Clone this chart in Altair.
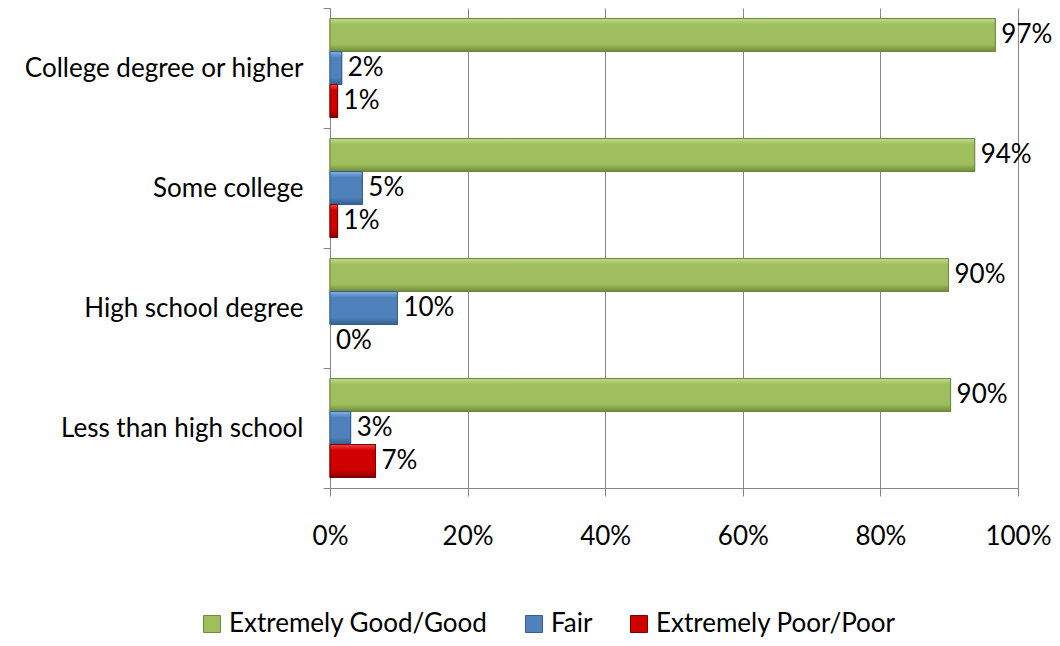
import altair as alt
import pandas as pd

categories = ["College degree or higher", "Some college", "High school degree", "Less than high school"]
series = ["Extremely Good/Good", "Fair", "Extremely Poor/Poor"]
good = [0.967, 0.937, 0.899, 0.902]
fair = [0.017, 0.047, 0.098, 0.030]
poor = [0.011, 0.011, 0.0, 0.066]
colors = ["#9FBF5E", "#4F81BD", "#D00000"]
lights = ["#C2DA8F", "#8AB2E2", "#F04545"]
darks = ["#6E8A3A", "#34608F", "#800000"]

rows = []
for i, c in enumerate(categories):
    for s, vals in zip(series, [good, fair, poor]):
        rows.append({"category": c, "series": s, "value": vals[i]})
df = pd.DataFrame(rows)

FONT = "Lato"
FS = 26
GRAY = "#868686"

y_axis = alt.Axis(title=None, tickBand="extent", domainColor=GRAY, tickColor=GRAY,
                  tickSize=7, labelPadding=20, labelFont=FONT, labelFontSize=FS,
                  labelColor="black", labelLimit=400)
y = alt.Y("category:N", sort=categories,
          scale=alt.Scale(paddingInner=0, paddingOuter=0), axis=y_axis)
yoff = alt.YOffset("series:N", sort=series,
                   scale=alt.Scale(paddingInner=0, paddingOuter=0.318))
x = alt.X(
    "value:Q", scale=alt.Scale(domain=[0, 1]),
    axis=alt.Axis(title=None, format="%", values=[0, 0.2, 0.4, 0.6, 0.8, 1.0], grid=True,
                  gridColor=GRAY, domainColor=GRAY, tickColor=GRAY, tickSize=8,
                  labelFlush=False, labelPadding=27, labelFont=FONT, labelFontSize=FS,
                  labelColor="black"),
)

base = alt.Chart(df).transform_filter(alt.datum.value > 0).mark_bar(strokeWidth=1).encode(
    x=x, y=y, yOffset=yoff,
    color=alt.Color("series:N", sort=series, scale=alt.Scale(domain=series, range=colors),
                    legend=alt.Legend(orient="none", legendX=-131, legendY=603, direction="horizontal",
                                      title=None, symbolType="square", symbolSize=289,
                                      symbolStrokeWidth=1, labelFont=FONT, labelFontSize=FS,
                                      labelColor="black", columnPadding=33, labelOffset=4,
                                      labelLimit=500)),
    stroke=alt.Stroke("series:N", sort=series, scale=alt.Scale(domain=series, range=darks), legend=None),
)

layers = [base]
for s, col, lt, dk in zip(series, colors, lights, darks):
    grad = alt.Gradient(
        gradient="linear", x1=0, y1=0, x2=0, y2=1,
        stops=[alt.GradientStop(offset=0, color=lt),
               alt.GradientStop(offset=0.18, color=col),
               alt.GradientStop(offset=0.78, color=col),
               alt.GradientStop(offset=1, color=dk)],
    )
    layers.append(
        alt.Chart(df).transform_filter((alt.datum.series == s) & (alt.datum.value > 0))
        .mark_bar(fill=grad, stroke=dk, strokeWidth=1)
        .encode(x="value:Q", y=alt.Y("category:N", sort=categories),
                yOffset=alt.YOffset("series:N", sort=series))
    )

labels = alt.Chart(df).mark_text(align="left", baseline="middle", dx=6, fontSize=FS, font=FONT, color="black").encode(
    x="value:Q", y=alt.Y("category:N", sort=categories), yOffset=alt.YOffset("series:N", sort=series),
    text=alt.Text("value:Q", format=".0%"),
)
layers.append(labels)

chart = alt.layer(*layers).properties(
    width=688, height=480,
    autosize=alt.AutoSizeParams(type="none"),
    padding={"left": 322, "top": 0, "right": 34, "bottom": 150},
).configure_view(stroke=None)

chart.save("out.html", embed_options={"renderer": "svg", "actions": False})
